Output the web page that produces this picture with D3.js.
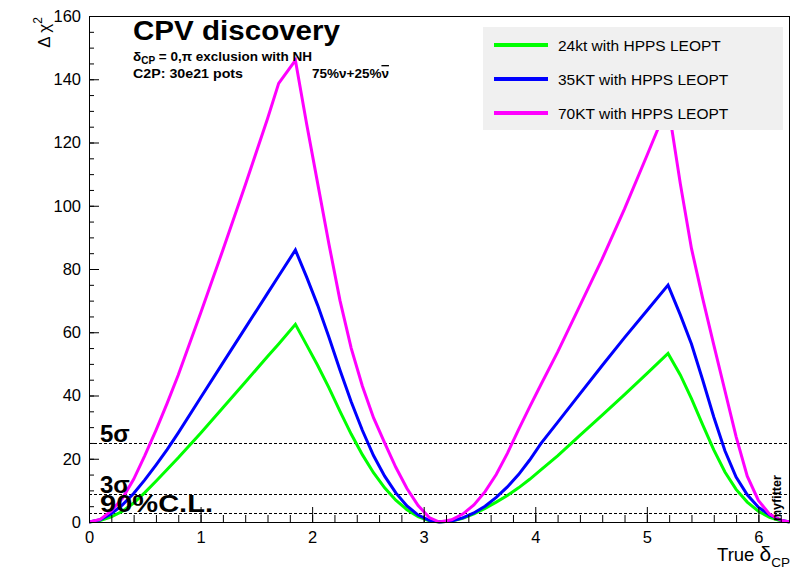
<!DOCTYPE html>
<html>
<head>
<meta charset="utf-8">
<script src="https://cdn.jsdelivr.net/npm/d3@7"></script>
<style>
  body { margin: 0; background: #fff; }
  svg { display: block; font-family: "Liberation Sans", Arial, Helvetica, sans-serif; }
</style>
</head>
<body>
<svg id="chart" width="798" height="571"></svg>
<script>
// True delta_CP grid (radians)
const deltaCP = [0, 0.1, 0.2, 0.3, 0.4, 0.5, 0.6, 0.7, 0.8, 1.0, 1.2, 1.4, 1.6, 1.7, 1.85,
  1.95, 2.05, 2.15, 2.25, 2.35, 2.45, 2.55, 2.65, 2.75, 2.85, 2.95, 3.05, 3.14,
  3.25, 3.35, 3.45, 3.55, 3.65, 3.75, 3.85, 3.95, 4.05, 4.2, 4.4, 4.6, 4.8, 5.0, 5.19,
  5.3, 5.4, 5.5, 5.6, 5.7, 5.8, 5.9, 6.0, 6.1, 6.2, 6.28];

// Delta chi^2 for each detector configuration
const chi24kt = [0, 0.5, 1.6, 3.4, 6.0, 9.3, 12.9, 16.6, 20.3, 28.1, 36.1, 44.2, 52.3, 56.3, 62.5,
  56, 49.5, 42.5, 35, 27.8, 21.3, 15.6, 10.8, 6.9, 3.9, 1.7, 0.4, 0,
  0.3, 1.2, 2.6, 4.3, 6.3, 8.4, 10.8, 13.5, 16.5, 20.9, 27.4, 33.8, 40.3, 46.9, 53.3,
  46.5, 39, 30.8, 22.8, 15.8, 10.3, 6.3, 3.4, 1.5, 0.35, 0];

const chi35kt = [0, 0.7, 2.6, 5.4, 9.0, 13.3, 18.0, 22.9, 28.2, 39.3, 50.3, 61.3, 72.3, 77.8, 86,
  77.5, 68.5, 58.5, 48, 38, 29, 21, 14.5, 9.2, 5.1, 2.2, 0.5, 0,
  0.35, 1.3, 2.85, 5.0, 7.8, 11.1, 15.0, 19.6, 24.8, 31.5, 40.5, 49.5, 58.3, 66.8, 74.9,
  65.5, 56.3, 45, 33.2, 22.5, 14.2, 8.6, 4.7, 2.2, 0.6, 0];

const chi70kt = [0, 0.8, 3.5, 7.5, 13.5, 21, 29, 37.5, 46.5, 66, 86, 106.5, 127.5, 138.7, 146,
  126, 107, 88, 70, 55, 43, 33, 25, 17.3, 10.6, 5.2, 1.4, 0,
  0.7, 2.5, 5.4, 9.6, 15, 21.7, 29.2, 36.4, 43.4, 53.7, 68.4, 83.2, 99, 115.8, 132,
  107, 86.5, 70.8, 56, 41.5, 27, 14.5, 6.8, 2.5, 0.6, 0];

const seriesNames = ["24kt with HPPS LEOPT", "35KT with HPPS LEOPT", "70KT with HPPS LEOPT"];
const seriesColors = ["#00ff00", "#0000ff", "#ff00ff"];

// Axis ticks
const xMajorTicks = [0, 1, 2, 3, 4, 5, 6];
const xMinorTicks = d3.range(0, 6.3, 0.2);
const yMajorTicks = [0, 20, 40, 60, 80, 100, 120, 140, 160];
const yMinorTicks = d3.range(0, 161, 5);

// Significance reference levels
const levelValues = [25, 9, 2.71];
const levelLabels = ["5σ", "3σ", "90%C.L."];

const svg = d3.select("#chart");
const plot = { left: 89, right: 790, top: 16, bottom: 522 };

const x = d3.scaleLinear().domain([0, 2 * Math.PI]).range([plot.left, plot.right]);
const y = d3.scaleLinear().domain([0, 160]).range([plot.bottom, plot.top]);

svg.append("rect").attr("width", 798).attr("height", 571).attr("fill", "#fff");

svg.append("clipPath").attr("id", "plotClip")
  .append("rect")
  .attr("x", plot.left).attr("y", plot.top - 2)
  .attr("width", plot.right - plot.left).attr("height", plot.bottom - plot.top + 4);

// Dotted significance lines
svg.append("g").selectAll("line").data(levelValues).join("line")
  .attr("x1", plot.left).attr("x2", plot.right)
  .attr("y1", d => Math.round(y(d)) + 0.5).attr("y2", d => Math.round(y(d)) + 0.5)
  .attr("stroke", "#000").attr("stroke-width", 1).attr("stroke-dasharray", "3,2");

// Curves
const seriesValues = [chi24kt, chi35kt, chi70kt];
const line = vals => d3.line()
  .x((d, i) => x(deltaCP[i]))
  .y((d, i) => y(vals[i]))(vals);

svg.append("g").attr("clip-path", "url(#plotClip)")
  .selectAll("path").data(seriesValues).join("path")
  .attr("d", d => line(d))
  .attr("fill", "none")
  .attr("stroke", (d, i) => seriesColors[i])
  .attr("stroke-width", 3)
  .attr("stroke-linejoin", "miter");

// Level labels
const levelText = svg.append("g").attr("font-weight", "bold").attr("font-size", 24).attr("fill", "#000");
levelText.append("text").attr("x", 100).attr("y", y(levelValues[0]) - 1).text(levelLabels[0]);
levelText.append("text").attr("x", 100).attr("y", y(levelValues[1]) - 1).text(levelLabels[1]);
levelText.append("text").attr("x", 100).attr("y", y(levelValues[2]) - 1)
  .attr("textLength", 113).attr("lengthAdjust", "spacingAndGlyphs").text(levelLabels[2]);

// Axes
const yAxisG = svg.append("g").attr("transform", `translate(${plot.left},0)`)
  .call(d3.axisLeft(y).tickValues(yMajorTicks).tickSizeInner(-10).tickSizeOuter(0).tickPadding(8));
svg.append("g").attr("transform", `translate(${plot.left},0)`)
  .call(d3.axisLeft(y).tickValues(yMinorTicks).tickSizeInner(-5).tickSizeOuter(0).tickFormat(""))
  .call(g => g.select(".domain").remove());

const xAxisG = svg.append("g").attr("transform", `translate(0,${plot.bottom})`)
  .call(d3.axisBottom(x).tickValues(xMajorTicks).tickSizeInner(-15).tickSizeOuter(0).tickPadding(9).tickFormat(d3.format("d")));
svg.append("g").attr("transform", `translate(0,${plot.bottom})`)
  .call(d3.axisBottom(x).tickValues(xMinorTicks).tickSizeInner(-7).tickSizeOuter(0).tickFormat(""))
  .call(g => g.select(".domain").remove());

[yAxisG, xAxisG].forEach(g => {
  g.selectAll("text").attr("font-size", 16.5).attr("fill", "#000")
    .attr("font-family", "Liberation Sans, Arial, sans-serif");
  g.select(".domain").remove();
});
svg.selectAll(".tick line").attr("stroke", "#000");

// Frame
svg.append("rect")
  .attr("x", plot.left + 0.5).attr("y", plot.top + 0.5)
  .attr("width", plot.right - plot.left - 1).attr("height", plot.bottom - plot.top)
  .attr("fill", "none").attr("stroke", "#000").attr("stroke-width", 1);

// Axis titles
const yTitle = svg.append("text")
  .attr("transform", "translate(50,17) rotate(-90)")
  .attr("text-anchor", "end").attr("font-size", 17).attr("fill", "#000");
yTitle.append("tspan").text("Δ χ");
yTitle.append("tspan").attr("font-size", 12).attr("dy", -8).text("2");

const xTitle = svg.append("text")
  .attr("x", 790).attr("y", 561)
  .attr("text-anchor", "end").attr("font-size", 18.5).attr("fill", "#000");
xTitle.append("tspan").text("True ");
xTitle.append("tspan").attr("font-size", 21).text("δ");
xTitle.append("tspan").attr("font-size", 13.5).attr("dy", 6).text("CP");

// Legend
const legend = svg.append("g");
legend.append("rect").attr("x", 483).attr("y", 27).attr("width", 300).attr("height", 103)
  .attr("fill", "#f0f0f0");
const legendRows = [45, 79, 113];
seriesNames.forEach((name, i) => {
  legend.append("line").attr("x1", 494).attr("x2", 548)
    .attr("y1", legendRows[i]).attr("y2", legendRows[i])
    .attr("stroke", seriesColors[i]).attr("stroke-width", 4);
  legend.append("text").attr("x", 558).attr("y", legendRows[i]).attr("dy", "0.36em")
    .attr("font-size", 15.5).attr("fill", "#000").text(name);
});

// Title block
svg.append("text").attr("x", 133).attr("y", 40)
  .attr("font-size", 27).attr("font-weight", "bold").attr("fill", "#000")
  .attr("textLength", 207).attr("lengthAdjust", "spacingAndGlyphs").text("CPV discovery");

const sub1 = svg.append("text").attr("x", 133).attr("y", 61)
  .attr("font-size", 13.5).attr("font-weight", "bold").attr("fill", "#000");
sub1.append("tspan").text("δ");
sub1.append("tspan").attr("font-size", 10).attr("dy", 3).text("CP");
sub1.append("tspan").attr("dy", -3).text(" = 0,π exclusion with NH");

svg.append("text").attr("x", 133).attr("y", 78)
  .attr("font-size", 13.5).attr("font-weight", "bold").attr("fill", "#000")
  .attr("textLength", 110).attr("lengthAdjust", "spacingAndGlyphs").text("C2P: 30e21 pots");

const mix = svg.append("text").attr("x", 312).attr("y", 78)
  .attr("font-size", 13.5).attr("font-weight", "bold").attr("fill", "#000");
mix.append("tspan").text("75%ν+25%");
mix.append("tspan").attr("text-decoration", "overline").text("ν");

// Fitter tag
svg.append("text").attr("transform", "translate(781,521) rotate(-90)")
  .attr("font-size", 12.5).attr("font-weight", "bold").attr("fill", "#000").text("myfitter");
</script>
</body>
</html>
